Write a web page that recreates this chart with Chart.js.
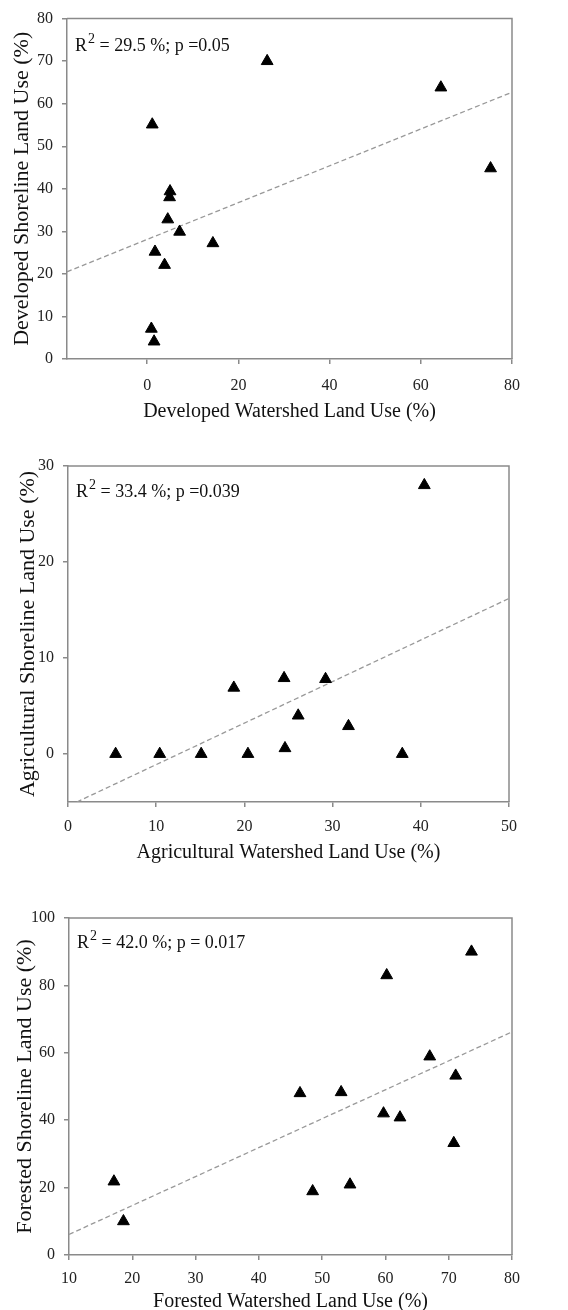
<!DOCTYPE html>
<html><head><meta charset="utf-8">
<script src="https://cdn.jsdelivr.net/npm/chart.js@4/dist/chart.umd.min.js"></script>
<style>
html,body{margin:0;padding:0;background:#fff;width:568px;height:1310px;overflow:hidden}
canvas{position:absolute;left:0;display:block}
</style></head><body>
<canvas id="c1" width="568" height="425" style="top:0"></canvas>
<canvas id="c2" width="568" height="445" style="top:425px"></canvas>
<canvas id="c3" width="568" height="440" style="top:870px"></canvas>
<script>
// ---------- Data: Developed ----------
const devWatershed = [26.3, 64.4, 75.3, 1.1, 5.0, 4.9, 4.5, 7.1, 14.4, 1.7, 3.8, 0.9, 1.5];
const devShoreline = [70.0, 63.8, 44.8, 55.1, 39.4, 38.0, 32.8, 29.9, 27.2, 25.2, 22.1, 7.1, 4.1];
const devFitX = [-17.6, 80];
const devFitY = [20.5, 62.7];
const devXTicks = [0, 20, 40, 60, 80];
const devYTicks = [0, 10, 20, 30, 40, 50, 60, 70, 80];
const devStat = ['R', '2', ' = 29.5 %; p =0.05'];

// ---------- Data: Agricultural ----------
const agWatershed = [5.4, 10.4, 15.1, 20.4, 18.8, 24.5, 24.6, 26.1, 29.2, 31.8, 37.9, 40.4];
const agShoreline = [0.0, 0.0, 0.0, 0.0, 6.9, 7.9, 0.6, 4.0, 7.8, 2.9, 0.0, 28.0];
const agFitX = [1.0, 50];
const agFitY = [-5.0, 16.2];
const agXTicks = [0, 10, 20, 30, 40, 50];
const agYTicks = [0, 10, 20, 30];
const agStat = ['R', '2', ' = 33.4 %; p =0.039'];

// ---------- Data: Forested ----------
const forWatershed = [73.6, 60.2, 67.0, 71.1, 46.5, 53.0, 59.7, 62.3, 70.8, 17.1, 18.6, 48.5, 54.4];
const forShoreline = [90.0, 83.0, 58.9, 53.2, 48.0, 48.3, 42.0, 40.8, 33.2, 21.8, 10.0, 18.9, 20.9];
const forFitX = [10, 80];
const forFitY = [6.1, 66.2];
const forXTicks = [10, 20, 30, 40, 50, 60, 70, 80];
const forYTicks = [0, 20, 40, 60, 80, 100];
const forStat = ['R', '2', ' = 42.0 %; p = 0.017'];

const FONT = '"Liberation Serif", "Times New Roman", serif';
const AXIS = '#8a8a8a';

const framePlugin = {
  id: 'frame',
  beforeDatasetsDraw(chart) {
    const {ctx, chartArea: a} = chart;
    ctx.save();
    ctx.strokeStyle = AXIS; ctx.lineWidth = 1.5;
    ctx.beginPath();
    ctx.moveTo(a.left, a.top); ctx.lineTo(a.right, a.top); ctx.lineTo(a.right, a.bottom);
    ctx.stroke();
    ctx.restore();
  }
};
const annotPlugin = {
  id: 'annot',
  afterDraw(chart, args, o) {
    const {ctx, chartArea: a} = chart;
    ctx.save();
    ctx.fillStyle = '#111'; ctx.textBaseline = 'alphabetic'; ctx.textAlign = 'left';
    let x = a.left + o.dx, y = a.top + o.dy;
    ctx.font = o.size + 'px ' + FONT;
    ctx.fillText(o.text[0], x, y); x += ctx.measureText(o.text[0]).width + 1;
    ctx.font = o.sup + 'px ' + FONT;
    ctx.fillText(o.text[1], x, y - o.rise); x += ctx.measureText(o.text[1]).width;
    ctx.font = o.size + 'px ' + FONT;
    ctx.fillText(o.text[2], x, y);
    ctx.restore();
  }
};

function pairs(xs, ys) { return xs.map((v, i) => ({x: v, y: ys[i]})); }

function makeChart(id, c) {
  const axisCommon = {
    type: 'linear',
    grid: {drawOnChartArea: false, drawTicks: true, tickLength: 5, color: AXIS, lineWidth: 1.5},
    border: {display: true, color: AXIS, width: 1.5},
  };
  new Chart(document.getElementById(id), {
    type: 'scatter',
    data: {
      datasets: [
        {data: pairs(c.x, c.y), pointStyle: 'triangle', pointRadius: 6.8, pointBorderWidth: 1,
         backgroundColor: '#000', borderColor: '#000', showLine: false},
        {data: pairs(c.fitX, c.fitY), showLine: true, pointRadius: 0, borderColor: '#999999',
         borderWidth: 1.3, borderDash: [5, 3], fill: false}
      ]
    },
    options: {
      responsive: false, animation: false, devicePixelRatio: 1,
      layout: {padding: {top: c.padTop, right: c.padRight, left: 0, bottom: 0}},
      plugins: {legend: {display: false}, tooltip: {enabled: false},
        annot: {text: c.stat, dx: 8, dy: c.annotDy, size: 18, sup: 14, rise: 8}},
      scales: {
        x: Object.assign({}, axisCommon, {
          min: c.xMin, max: c.xMax,
          afterBuildTicks: s => { s.ticks = c.xTicks.map(v => ({value: v})); },
          afterFit: s => { s.height = c.xH; },
          ticks: {font: {family: FONT, size: 16}, color: '#222', padding: c.xTickPad, maxRotation: 0, autoSkip: false},
          title: {display: true, text: c.xTitle, color: '#111', font: {family: FONT, size: 20, lineHeight: 1},
                  padding: {top: 0, bottom: c.xTitlePad}}
        }),
        y: Object.assign({}, axisCommon, {
          min: c.yMin, max: c.yMax,
          afterBuildTicks: s => { s.ticks = c.yTicks.map(v => ({value: v})); },
          afterFit: s => { s.width = c.yW; },
          ticks: {font: {family: FONT, size: 16}, color: '#222', padding: 9, autoSkip: false},
          title: {display: true, text: c.yTitle, color: '#111', font: {family: FONT, size: 22, lineHeight: 1},
                  padding: {top: c.yTitlePad, bottom: 0}}
        })
      }
    },
    plugins: [framePlugin, annotPlugin]
  });
}

makeChart('c1', {
  x: devWatershed, y: devShoreline, fitX: devFitX, fitY: devFitY, stat: devStat,
  xMin: -17.6, xMax: 80, yMin: 0, yMax: 80, xTicks: devXTicks, yTicks: devYTicks,
  xTitle: 'Developed Watershed Land Use (%)', yTitle: 'Developed Shoreline Land Use (%)',
  padTop: 15, padRight: 56, yW: 67, xH: 66, xTickPad: 12, xTitlePad: 3, yTitlePad: 11, annotDy: 32
});
makeChart('c2', {
  x: agWatershed, y: agShoreline, fitX: agFitX, fitY: agFitY, stat: agStat,
  xMin: 0, xMax: 50, yMin: -5, yMax: 30, xTicks: agXTicks, yTicks: agYTicks,
  xTitle: 'Agricultural Watershed Land Use (%)', yTitle: 'Agricultural Shoreline Land Use (%)',
  padTop: 41, padRight: 59, yW: 68, xH: 68, xTickPad: 10, xTitlePad: 7, yTitlePad: 17, annotDy: 31
});
makeChart('c3', {
  x: forWatershed, y: forShoreline, fitX: forFitX, fitY: forFitY, stat: forStat,
  xMin: 10, xMax: 80, yMin: 0, yMax: 100, xTicks: forXTicks, yTicks: forYTicks,
  xTitle: 'Forested Watershed Land Use (%)', yTitle: 'Forested Shoreline Land Use (%)',
  padTop: 48, padRight: 56, yW: 69, xH: 55, xTickPad: 9, xTitlePad: -2, yTitlePad: 14, annotDy: 30
});
</script>
</body></html>
